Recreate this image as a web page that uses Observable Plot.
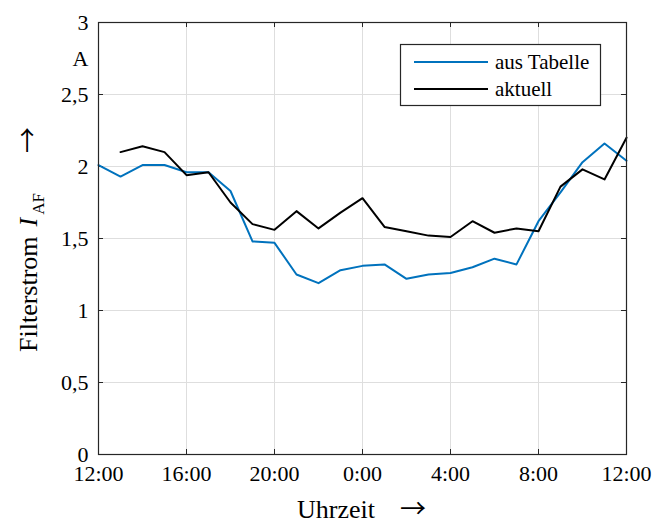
<!DOCTYPE html>
<html><head><meta charset="utf-8">
<script src="https://cdn.jsdelivr.net/npm/d3@7"></script>
<script src="https://cdn.jsdelivr.net/npm/@observablehq/plot@0.6"></script>
<style>body{margin:0;background:#fff}</style>
</head><body><div id="chart"></div>
<script>
// Hours after 12:00 (0 = 12:00, 24 = 12:00 next day)
const hoursTabelle = [0,1,2,3,4,5,6,7,8,9,10,11,12,13,14,15,16,17,18,19,20,21,22,23,24];
const valuesTabelle = [2.01,1.93,2.01,2.01,1.96,1.96,1.83,1.48,1.47,1.25,1.19,1.28,1.31,1.32,1.22,1.25,1.26,1.30,1.36,1.32,1.62,1.82,2.03,2.16,2.04];
const hoursAktuell = [1,2,3,4,5,6,7,8,9,10,11,12,13,14,15,16,17,18,19,20,21,22,23,24];
const valuesAktuell = [2.10,2.14,2.10,1.94,1.96,1.75,1.60,1.56,1.69,1.57,1.68,1.78,1.58,1.55,1.52,1.51,1.62,1.54,1.57,1.55,1.86,1.98,1.91,2.20];
const xTicks = [0,4,8,12,16,20,24];
const xTickLabels = ["12:00","16:00","20:00","0:00","4:00","8:00","12:00"];
const yTicks = [0,0.5,1,1.5,2,2.5,3];
const seriesNames = ["aus Tabelle","aktuell"];
const seriesColors = ["#0072BD","#000000"];

const tabelle = hoursTabelle.map((h,i)=>({h, v: valuesTabelle[i]}));
const aktuell = hoursAktuell.map((h,i)=>({h, v: valuesAktuell[i]}));
const xLabelMap = new Map(xTicks.map((t,i)=>[t, xTickLabels[i]]));

const W=652, H=524, mL=98, mR=26, mT=22, mB=70;
const fw = W-mL-mR, fh = H-mT-mB;
const font = '"Liberation Serif","Times New Roman",serif';
const arrowFont = '"Noto Sans CJK JP","Noto Sans CJK SC",sans-serif';
const axisColor = "#262626";
const gridColor = "#dedede";

const plot = Plot.plot({
  width: W, height: H,
  marginLeft: mL, marginRight: mR, marginTop: mT, marginBottom: mB,
  style: {fontFamily: font, fontSize: "22px", color: axisColor, background: "#fff", overflow: "visible"},
  x: {domain: [0,24]},
  y: {domain: [0,3]},
  marks: [
    Plot.gridX(xTicks, {stroke: gridColor, strokeOpacity: 1}),
    Plot.gridY(yTicks, {stroke: gridColor, strokeOpacity: 1}),
    Plot.axisX(xTicks, {tickSize: 0, tickPadding: 11, tickFormat: d => xLabelMap.get(d), label: null, fill: "#000"}),
    Plot.axisY(yTicks, {tickSize: 0, tickPadding: 10, tickFormat: d => String(d).replace(".", ","), label: null, fill: "#000"}),
    Plot.axisY([2.75], {tickSize: 0, tickPadding: 10, tickFormat: () => "A", label: null, fill: "#000"}),
    Plot.tickX(xTicks, {x: d => d, insetTop: fh-5, stroke: axisColor}),
    Plot.tickX(xTicks, {x: d => d, insetBottom: fh-5, stroke: axisColor}),
    Plot.tickY(yTicks, {y: d => d, insetRight: fw-5, stroke: axisColor}),
    Plot.tickY(yTicks, {y: d => d, insetLeft: fw-5, stroke: axisColor}),
    Plot.line(tabelle, {x: "h", y: "v", stroke: seriesColors[0], strokeWidth: 2}),
    Plot.line(aktuell, {x: "h", y: "v", stroke: seriesColors[1], strokeWidth: 2}),
    Plot.frame({stroke: axisColor, strokeWidth: 1.2})
  ]
});

const svg = d3.select(plot);

// Legend
const lg = svg.append("g").attr("font-family", font).attr("font-size", 21).attr("text-anchor", "start");
lg.append("rect").attr("x", 400.5).attr("y", 44.5).attr("width", 200).attr("height", 61)
  .attr("fill", "#fff").attr("stroke", axisColor).attr("stroke-width", 1.2);
seriesNames.forEach((name, i) => {
  const yy = 62 + i*27;
  lg.append("line").attr("x1", 414).attr("x2", 488).attr("y1", yy).attr("y2", yy)
    .attr("stroke", seriesColors[i]).attr("stroke-width", 2);
  lg.append("text").attr("x", 495).attr("y", yy).attr("dy", "0.32em").attr("fill", "#000")
    .attr("text-anchor", "start").text(name);
});

// X axis label
const xl = svg.append("text").attr("font-family", font).attr("font-size", 26).attr("fill", "#000")
  .attr("text-anchor", "start").attr("x", 297).attr("y", 518);
xl.append("tspan").text("Uhrzeit");
xl.append("tspan").attr("dx", 25).attr("font-family", arrowFont).attr("font-size", 26).text("→");

// Y axis label
const yl = svg.append("text").attr("font-family", font).attr("font-size", 26).attr("fill", "#000")
  .attr("text-anchor", "start").attr("transform", "translate(37,352) rotate(-90)");
yl.append("tspan").text("Filterstrom");
yl.append("tspan").attr("dx", 10).attr("font-style", "italic").text("I");
yl.append("tspan").attr("font-size", 17).attr("dy", 7).attr("dx", 3).text("AF");
yl.append("tspan").attr("dy", -7).attr("dx", 40).attr("font-family", arrowFont).attr("font-size", 26).text("→");

document.getElementById("chart").appendChild(plot);
</script>
</body></html>
